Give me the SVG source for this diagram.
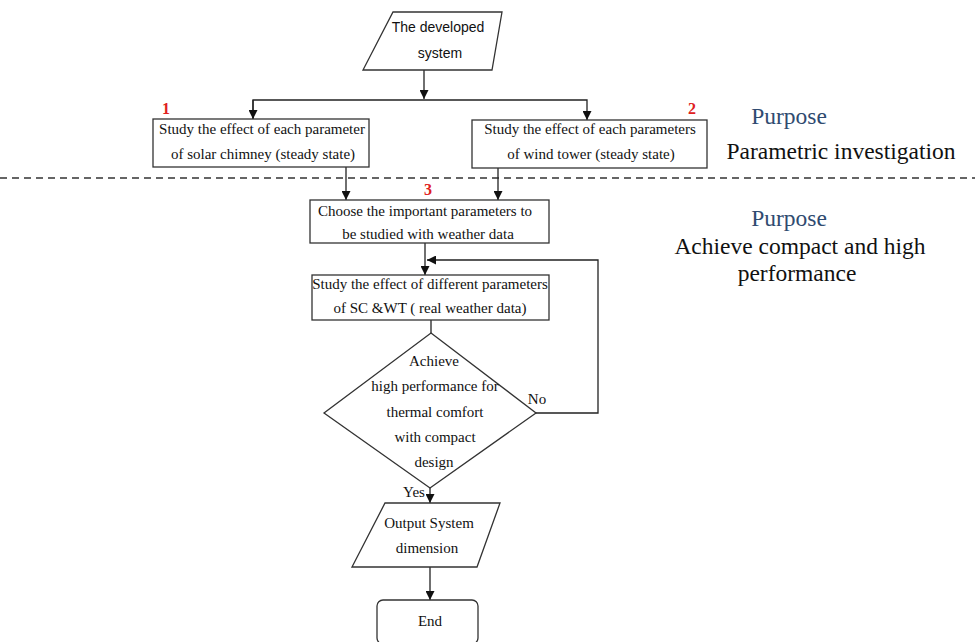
<svg xmlns="http://www.w3.org/2000/svg" width="975" height="642" viewBox="0 0 975 642">
<style>
.shape{fill:#fff;stroke:#333;stroke-width:1.3}
.line{fill:none;stroke:#222;stroke-width:1.3}
.t{font-family:"Liberation Serif","Times New Roman",serif;font-size:15px;fill:#111;text-anchor:middle}
.s{font-family:"Liberation Sans",Arial,sans-serif;font-size:14px;fill:#111;text-anchor:middle}
.num{font-family:"Liberation Serif",serif;font-size:16px;font-weight:bold;fill:#e02020;text-anchor:middle}
.p{font-family:"Liberation Serif",serif;font-size:23.5px;fill:#2f4b70;text-anchor:middle}
.b{font-family:"Liberation Serif",serif;font-size:23.5px;fill:#111;text-anchor:middle}
</style>
<defs>
<marker id="ah" viewBox="0 0 10 10" refX="10" refY="5" markerWidth="9" markerHeight="9" markerUnits="userSpaceOnUse" orient="auto">
<path d="M0,0 L10,5 L0,10 z" fill="#111"/>
</marker>
</defs>
<rect width="975" height="642" fill="#fff"/>
<line x1="0" y1="178" x2="975" y2="178" stroke="#333" stroke-width="1.5" stroke-dasharray="7,5"/>
<g id="connectors">
<path class="line" d="M424,70 V99" marker-end="url(#ah)"/>
<path class="line" d="M253,119 V100 H587 V120" marker-end="url(#ah)"/>
<path class="line" d="M253,100 V119" marker-end="url(#ah)"/>
<path class="line" d="M346,167 V200" marker-end="url(#ah)"/>
<path class="line" d="M498,168 V200" marker-end="url(#ah)"/>
<path class="line" d="M425,243 V275" marker-end="url(#ah)"/>
<path class="line" d="M431,320 V333"/>
<path class="line" d="M536,413 H598 V260 H427" marker-end="url(#ah)"/>
<path class="line" d="M430,488 V503" marker-end="url(#ah)"/>
<path class="line" d="M430,567 V600" marker-end="url(#ah)"/>
</g>
<g id="start">
<polygon class="shape" points="393,12 502,12 492,70 363,70"/>
<text class="s" x="438" y="32">The developed</text>
<text class="s" x="440" y="58">system</text>
</g>
<g id="box1">
<rect class="shape" x="153" y="119" width="216" height="48"/>
<text class="num" x="166" y="114">1</text>
<text class="t" x="262" y="134">Study the effect of each parameter</text>
<text class="t" x="263" y="159">of solar chimney (steady state)</text>
</g>
<g id="box2">
<rect class="shape" x="472" y="120" width="235" height="48"/>
<text class="num" x="692" y="114">2</text>
<text class="t" x="590" y="134">Study the effect of each parameters</text>
<text class="t" x="591" y="159">of wind tower (steady state)</text>
</g>
<g id="purpose1">
<text class="p" x="789" y="124">Purpose</text>
<text class="b" x="841" y="159">Parametric investigation</text>
</g>
<g id="box3">
<rect class="shape" x="310" y="200" width="239" height="43"/>
<text class="num" x="428" y="195">3</text>
<text class="t" x="425" y="216">Choose the important parameters to</text>
<text class="t" x="428" y="239">be studied with weather data</text>
</g>
<g id="purpose2">
<text class="p" x="789" y="226">Purpose</text>
<text class="b" x="800" y="254">Achieve compact and high</text>
<text class="b" x="797" y="281">performance</text>
</g>
<g id="box4">
<rect class="shape" x="312" y="275" width="237" height="45"/>
<text class="t" x="430" y="289">Study the effect of different parameters</text>
<text class="t" x="430" y="313">of SC &amp;WT ( real weather data)</text>
</g>
<g id="decision">
<polygon class="shape" points="431,333 536,413 430,488 324,413"/>
<text class="t" x="434" y="366">Achieve</text>
<text class="t" x="435" y="391">high performance for</text>
<text class="t" x="435" y="417">thermal comfort</text>
<text class="t" x="435" y="442">with compact</text>
<text class="t" x="434" y="467">design</text>
<text class="t" x="537" y="404">No</text>
<text class="t" x="414" y="497">Yes</text>
</g>
<g id="output">
<polygon class="shape" points="385,503 500,503 477,567 352,567"/>
<text class="t" x="429" y="528">Output System</text>
<text class="t" x="427" y="553">dimension</text>
</g>
<g id="end">
<rect class="shape" x="377" y="600" width="101" height="44" rx="6"/>
<text class="t" x="430" y="626">End</text>
</g>
</svg>
